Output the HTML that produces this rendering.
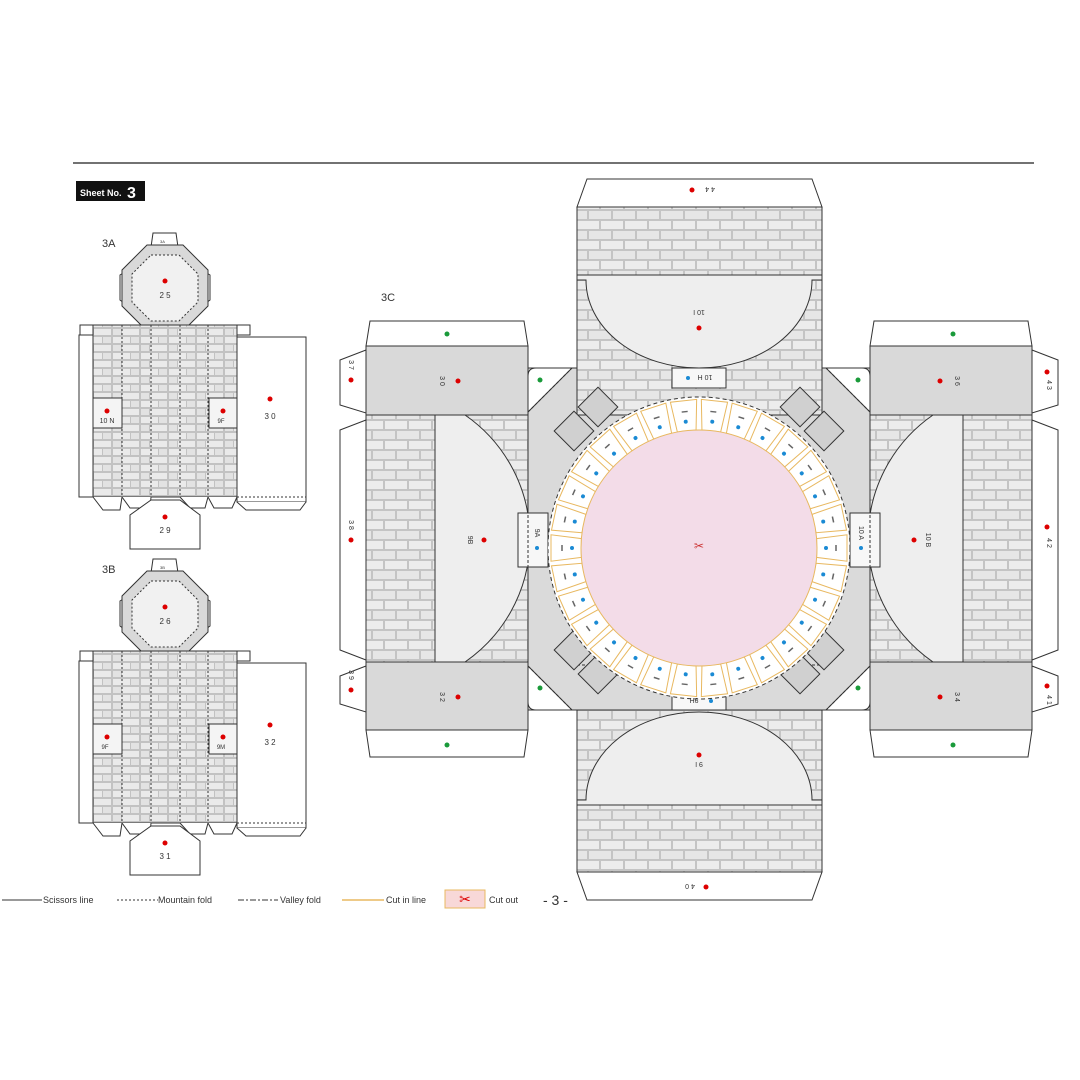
<!DOCTYPE html>
<html><head><meta charset="utf-8"><style>
html,body{margin:0;padding:0;background:#fff;}
svg{display:block;font-family:"Liberation Sans",sans-serif;}
</style></head><body>
<svg width="1080" height="1080" viewBox="0 0 1080 1080" xmlns="http://www.w3.org/2000/svg" xmlns:xlink="http://www.w3.org/1999/xlink">
<defs>
<pattern id="br" width="24" height="20" patternUnits="userSpaceOnUse">
<rect width="24" height="20" fill="#c4c4c4"/>
<rect x="1" y="1" width="22" height="8" fill="#ececec"/>
<rect x="-11" y="11" width="22" height="8" fill="#e6e6e6"/>
<rect x="13" y="11" width="22" height="8" fill="#e6e6e6"/>
</pattern>
<pattern id="bs" width="28" height="16" patternUnits="userSpaceOnUse">
<rect width="28" height="16" fill="#c2c2c2"/>
<rect x="1" y="1" width="17" height="6" fill="#eaeaea"/>
<rect x="19" y="1" width="8" height="6" fill="#e2e2e2"/>
<rect x="1" y="9" width="8" height="6" fill="#e2e2e2"/>
<rect x="10" y="9" width="17" height="6" fill="#eaeaea"/>
</pattern>
<g id="tile">
<polygon points="117.6,-9.4 148,-13.2 148,13.2 117.6,9.4" fill="#fff" stroke="#e8b860" stroke-width="1"/>
<circle cx="127" cy="0" r="2" fill="#1a8ad4"/>
<line x1="137" y1="-3" x2="137" y2="3" stroke="#666" stroke-width="1.5"/>
</g>
</defs>
<rect width="1080" height="1080" fill="#fff"/>
<line x1="73" y1="163" x2="1034" y2="163" stroke="#444" stroke-width="1.5"/>
<rect x="76" y="181" width="69" height="20" fill="#111"/>
<text x="80" y="196" font-size="9" font-weight="bold" fill="#fff">Sheet No.</text>
<text x="127" y="198" font-size="16" font-weight="bold" fill="#fff">3</text>

<!-- 3A -->
<g stroke="#333" stroke-width="1">
<text x="102" y="247" font-size="11" stroke="none" fill="#333">3A</text>
<path d="M151,247 L153,233 L176,233 L178,247 Z" fill="#fff"/>
<path d="M120,275 L128,270 L128,306 L120,300 Z" fill="#fff"/>
<path d="M210,275 L202,270 L202,306 L210,300 Z" fill="#fff"/>
<polygon points="147,245 183,245 208,270 208,306 183,331 147,331 122,306 122,270" fill="#d9d9d9"/>
<polygon points="151,255 179,255 198,274 198,302 179,321 151,321 132,302 132,274" fill="#f1f1f1" stroke-dasharray="2,2"/>
<circle cx="165" cy="281" r="2.5" fill="#d00" stroke="none"/>
<text x="165" y="298" font-size="8" text-anchor="middle" stroke="none" fill="#333">2 5</text>
<text x="160" y="243" font-size="4" stroke="none" fill="#333">3A</text>
<rect x="80" y="325" width="170" height="10" fill="#fff"/>
<rect x="79" y="335" width="14" height="162" fill="#fff"/>
<rect x="93" y="325" width="144" height="172" fill="url(#bs)"/>
<g stroke-dasharray="2,2"><line x1="122" y1="325" x2="122" y2="497"/><line x1="151" y1="325" x2="151" y2="497"/><line x1="180" y1="325" x2="180" y2="497"/><line x1="208" y1="325" x2="208" y2="497"/></g>
<rect x="237" y="337" width="69" height="165" fill="#fff"/>
<line x1="237" y1="497" x2="306" y2="497" stroke-dasharray="2,2"/>
<path d="M93,497 L103,510 L120,510 L122,497" fill="#fff"/>
<path d="M122,497 L130,508 L150,508 L151,497" fill="#fff"/>
<path d="M180,497 L190,508 L205,508 L208,497" fill="#fff"/>
<path d="M208,497 L214,508 L232,508 L237,497" fill="#fff"/>
<path d="M237,502 L246,510 L300,510 L306,502" fill="#fff"/>
<path d="M130,549 L130,515 L151,500 L180,500 L200,515 L200,549 Z" fill="#fff"/>
<rect x="93" y="398" width="29" height="30" fill="#f4f4f4"/>
<rect x="209" y="398" width="28" height="30" fill="#f4f4f4"/>
<g stroke="none">
<circle cx="107" cy="411" r="2.5" fill="#d00"/><text x="107" y="423" font-size="7" text-anchor="middle" fill="#333">10 N</text>
<circle cx="223" cy="411" r="2.5" fill="#d00"/><text x="221" y="423" font-size="6" text-anchor="middle" fill="#333">9F</text>
<circle cx="270" cy="399" r="2.5" fill="#d00"/><text x="270" y="419" font-size="8" text-anchor="middle" fill="#333">3 0</text>
<circle cx="165" cy="517" r="2.5" fill="#d00"/><text x="165" y="533" font-size="8" text-anchor="middle" fill="#333">2 9</text>
</g>
</g>
<!-- 3B -->
<g stroke="#333" stroke-width="1" transform="translate(0,326)">
<text x="102" y="247" font-size="11" stroke="none" fill="#333">3B</text>
<path d="M151,247 L153,233 L176,233 L178,247 Z" fill="#fff"/>
<path d="M120,275 L128,270 L128,306 L120,300 Z" fill="#fff"/>
<path d="M210,275 L202,270 L202,306 L210,300 Z" fill="#fff"/>
<polygon points="147,245 183,245 208,270 208,306 183,331 147,331 122,306 122,270" fill="#d9d9d9"/>
<polygon points="151,255 179,255 198,274 198,302 179,321 151,321 132,302 132,274" fill="#f1f1f1" stroke-dasharray="2,2"/>
<circle cx="165" cy="281" r="2.5" fill="#d00" stroke="none"/>
<text x="165" y="298" font-size="8" text-anchor="middle" stroke="none" fill="#333">2 6</text>
<text x="160" y="243" font-size="4" stroke="none" fill="#333">3B</text>
<rect x="80" y="325" width="170" height="10" fill="#fff"/>
<rect x="79" y="335" width="14" height="162" fill="#fff"/>
<rect x="93" y="325" width="144" height="172" fill="url(#bs)"/>
<g stroke-dasharray="2,2"><line x1="122" y1="325" x2="122" y2="497"/><line x1="151" y1="325" x2="151" y2="497"/><line x1="180" y1="325" x2="180" y2="497"/><line x1="208" y1="325" x2="208" y2="497"/></g>
<rect x="237" y="337" width="69" height="165" fill="#fff"/>
<line x1="237" y1="497" x2="306" y2="497" stroke-dasharray="2,2"/>
<path d="M93,497 L103,510 L120,510 L122,497" fill="#fff"/>
<path d="M122,497 L130,508 L150,508 L151,497" fill="#fff"/>
<path d="M180,497 L190,508 L205,508 L208,497" fill="#fff"/>
<path d="M208,497 L214,508 L232,508 L237,497" fill="#fff"/>
<path d="M237,502 L246,510 L300,510 L306,502" fill="#fff"/>
<path d="M130,549 L130,515 L151,500 L180,500 L200,515 L200,549 Z" fill="#fff"/>
<rect x="93" y="398" width="29" height="30" fill="#f4f4f4"/>
<rect x="209" y="398" width="28" height="30" fill="#f4f4f4"/>
<g stroke="none">
<circle cx="107" cy="411" r="2.5" fill="#d00"/><text x="105" y="423" font-size="6" text-anchor="middle" fill="#333">9F</text>
<circle cx="223" cy="411" r="2.5" fill="#d00"/><text x="221" y="423" font-size="6" text-anchor="middle" fill="#333">9M</text>
<circle cx="270" cy="399" r="2.5" fill="#d00"/><text x="270" y="419" font-size="8" text-anchor="middle" fill="#333">3 2</text>
<circle cx="165" cy="517" r="2.5" fill="#d00"/><text x="165" y="533" font-size="8" text-anchor="middle" fill="#333">3 1</text>
</g>
</g>

<!-- 3C -->
<text x="381" y="301" font-size="11" fill="#333">3C</text>
<g stroke="#333" stroke-width="1">
<rect x="528" y="368" width="342" height="342" fill="#dadada"/>
<path d="M528,412 L528,376 Q528,368 536,368 L572,368 Z" fill="#fff"/>
<path d="M870,412 L870,376 Q870,368 862,368 L826,368 Z" fill="#fff"/>
<path d="M528,666 L528,702 Q528,710 536,710 L572,710 Z" fill="#fff"/>
<path d="M870,666 L870,702 Q870,710 862,710 L826,710 Z" fill="#fff"/>
<path d="M577,207 L587,179 L812,179 L822,207 Z" fill="#fff"/>
<rect x="577" y="207" width="245" height="68" fill="url(#br)"/>
<rect x="577" y="275" width="245" height="140" fill="url(#br)"/>
<path d="M577,275 L822,275 L822,280 L812,280 A113,88 0 0 1 586,280 L577,280 Z" fill="#eeeeee"/>
<rect x="672" y="368" width="54" height="20" fill="#f7f7f7"/>
<rect x="577" y="710" width="245" height="162" fill="url(#br)"/>
<path d="M577,805 L577,800 L586,800 A113,88 0 0 1 812,800 L822,800 L822,805 Z" fill="#eeeeee"/>
<path d="M577,872 L822,872 L812,900 L587,900 Z" fill="#fff"/>
<rect x="672" y="690" width="54" height="20" fill="#f7f7f7"/>
<path d="M366,346 L370,321 L524,321 L528,346 Z" fill="#fff"/>
<rect x="366" y="346" width="162" height="69" fill="#d9d9d9"/>
<rect x="366" y="415" width="162" height="247" fill="url(#br)"/>
<path d="M435,415 L465,415 A150,150 0 0 1 465,662 L435,662 Z" fill="#eeeeee"/>
<rect x="366" y="662" width="162" height="68" fill="#d9d9d9"/>
<path d="M366,730 L528,730 L524,757 L370,757 Z" fill="#fff"/>
<path d="M366,350 L340,360 L340,405 L366,413 Z" fill="#fff"/>
<path d="M366,420 L340,430 L340,650 L366,660 Z" fill="#fff"/>
<path d="M366,666 L340,676 L340,704 L366,712 Z" fill="#fff"/>
<rect x="518" y="513" width="30" height="54" fill="#f7f7f7"/>
<path d="M870,346 L874,321 L1028,321 L1032,346 Z" fill="#fff"/>
<rect x="870" y="346" width="162" height="69" fill="#d9d9d9"/>
<rect x="870" y="415" width="162" height="247" fill="url(#br)"/>
<path d="M963,415 L933,415 A150,150 0 0 0 933,662 L963,662 Z" fill="#eeeeee"/>
<rect x="870" y="662" width="162" height="68" fill="#d9d9d9"/>
<path d="M870,730 L1032,730 L1028,757 L874,757 Z" fill="#fff"/>
<path d="M1032,350 L1058,360 L1058,405 L1032,413 Z" fill="#fff"/>
<path d="M1032,420 L1058,430 L1058,650 L1032,660 Z" fill="#fff"/>
<path d="M1032,666 L1058,676 L1058,704 L1032,712 Z" fill="#fff"/>
<rect x="850" y="513" width="30" height="54" fill="#f7f7f7"/>
<g stroke-dasharray="3,2" fill="none">
<line x1="366" y1="346" x2="528" y2="346"/><line x1="366" y1="415" x2="528" y2="415"/>
<line x1="366" y1="662" x2="528" y2="662"/><line x1="366" y1="730" x2="528" y2="730"/>
<line x1="870" y1="346" x2="1032" y2="346"/><line x1="870" y1="415" x2="1032" y2="415"/>
<line x1="870" y1="662" x2="1032" y2="662"/><line x1="870" y1="730" x2="1032" y2="730"/>
<line x1="577" y1="207" x2="822" y2="207"/><line x1="577" y1="872" x2="822" y2="872"/>
<line x1="577" y1="415" x2="822" y2="415"/><line x1="577" y1="665" x2="822" y2="665"/>
<line x1="528" y1="415" x2="528" y2="662"/><line x1="870" y1="415" x2="870" y2="662"/>
<line x1="528" y1="412" x2="572" y2="368"/><line x1="870" y1="412" x2="826" y2="368"/>
<line x1="528" y1="666" x2="572" y2="710"/><line x1="870" y1="666" x2="826" y2="710"/>
</g>
<g fill="#d0d0d0">
<rect x="-14" y="-14" width="28" height="28" transform="translate(574,431) rotate(45)"/>
<rect x="-14" y="-14" width="28" height="28" transform="translate(598,407) rotate(45)"/>
<rect x="-14" y="-14" width="28" height="28" transform="translate(824,431) rotate(45)"/>
<rect x="-14" y="-14" width="28" height="28" transform="translate(800,407) rotate(45)"/>
<rect x="-14" y="-14" width="28" height="28" transform="translate(574,650) rotate(45)"/>
<rect x="-14" y="-14" width="28" height="28" transform="translate(598,674) rotate(45)"/>
<rect x="-14" y="-14" width="28" height="28" transform="translate(824,650) rotate(45)"/>
<rect x="-14" y="-14" width="28" height="28" transform="translate(800,674) rotate(45)"/>
</g>
<circle cx="699" cy="548" r="151" fill="#fff" stroke-dasharray="4,3"/>
</g>
<g transform="translate(699,548)">
<use xlink:href="#tile" href="#tile" transform="rotate(0)"/>
<use xlink:href="#tile" href="#tile" transform="rotate(12)"/>
<use xlink:href="#tile" href="#tile" transform="rotate(24)"/>
<use xlink:href="#tile" href="#tile" transform="rotate(36)"/>
<use xlink:href="#tile" href="#tile" transform="rotate(48)"/>
<use xlink:href="#tile" href="#tile" transform="rotate(60)"/>
<use xlink:href="#tile" href="#tile" transform="rotate(72)"/>
<use xlink:href="#tile" href="#tile" transform="rotate(84)"/>
<use xlink:href="#tile" href="#tile" transform="rotate(96)"/>
<use xlink:href="#tile" href="#tile" transform="rotate(108)"/>
<use xlink:href="#tile" href="#tile" transform="rotate(120)"/>
<use xlink:href="#tile" href="#tile" transform="rotate(132)"/>
<use xlink:href="#tile" href="#tile" transform="rotate(144)"/>
<use xlink:href="#tile" href="#tile" transform="rotate(156)"/>
<use xlink:href="#tile" href="#tile" transform="rotate(168)"/>
<use xlink:href="#tile" href="#tile" transform="rotate(180)"/>
<use xlink:href="#tile" href="#tile" transform="rotate(192)"/>
<use xlink:href="#tile" href="#tile" transform="rotate(204)"/>
<use xlink:href="#tile" href="#tile" transform="rotate(216)"/>
<use xlink:href="#tile" href="#tile" transform="rotate(228)"/>
<use xlink:href="#tile" href="#tile" transform="rotate(240)"/>
<use xlink:href="#tile" href="#tile" transform="rotate(252)"/>
<use xlink:href="#tile" href="#tile" transform="rotate(264)"/>
<use xlink:href="#tile" href="#tile" transform="rotate(276)"/>
<use xlink:href="#tile" href="#tile" transform="rotate(288)"/>
<use xlink:href="#tile" href="#tile" transform="rotate(300)"/>
<use xlink:href="#tile" href="#tile" transform="rotate(312)"/>
<use xlink:href="#tile" href="#tile" transform="rotate(324)"/>
<use xlink:href="#tile" href="#tile" transform="rotate(336)"/>
<use xlink:href="#tile" href="#tile" transform="rotate(348)"/>
</g>
<circle cx="699" cy="548" r="118" fill="#f3dce8" stroke="#e8b860"/>
<g stroke="none" font-size="7" fill="#333" text-anchor="middle">
<circle cx="692" cy="190" r="2.5" fill="#d00"/><text x="710" y="193" transform="rotate(180,710,190)">4 4</text>
<circle cx="699" cy="328" r="2.5" fill="#d00"/><text x="699" y="316" transform="rotate(180,699,313)">10 I</text>
<circle cx="688" cy="378" r="2" fill="#1a8ad4"/><text x="705" y="381" transform="rotate(180,705,378)">10 H</text>
<circle cx="699" cy="755" r="2.5" fill="#d00"/><text x="699" y="768" transform="rotate(180,699,765)">9 I</text>
<circle cx="711" cy="701" r="2" fill="#1a8ad4"/><text x="694" y="704" transform="rotate(180,694,701)">9H</text>
<circle cx="706" cy="887" r="2.5" fill="#d00"/><text x="690" y="890" transform="rotate(180,690,887)">4 0</text>
<circle cx="458" cy="381" r="2.5" fill="#d00"/><text x="442" y="383" transform="rotate(90,442,381)">3 0</text>
<circle cx="458" cy="697" r="2.5" fill="#d00"/><text x="442" y="699" transform="rotate(90,442,697)">3 2</text>
<circle cx="484" cy="540" r="2.5" fill="#d00"/><text x="470" y="542" transform="rotate(90,470,540)">9B</text>
<circle cx="537" cy="548" r="2" fill="#1a8ad4"/><text x="537" y="535" transform="rotate(90,537,533)">9A</text>
<circle cx="351" cy="380" r="2.5" fill="#d00"/><text x="351" y="367" transform="rotate(90,351,365)">3 7</text>
<circle cx="351" cy="540" r="2.5" fill="#d00"/><text x="351" y="527" transform="rotate(90,351,525)">3 8</text>
<circle cx="351" cy="690" r="2.5" fill="#d00"/><text x="351" y="677" transform="rotate(90,351,675)">3 9</text>
<circle cx="940" cy="381" r="2.5" fill="#d00"/><text x="957" y="383" transform="rotate(90,957,381)">3 6</text>
<circle cx="940" cy="697" r="2.5" fill="#d00"/><text x="957" y="699" transform="rotate(90,957,697)">3 4</text>
<circle cx="914" cy="540" r="2.5" fill="#d00"/><text x="928" y="542" transform="rotate(90,928,540)">10 B</text>
<circle cx="861" cy="548" r="2" fill="#1a8ad4"/><text x="861" y="535" transform="rotate(90,861,533)">10 A</text>
<circle cx="1047" cy="372" r="2.5" fill="#d00"/><text x="1047" y="385" transform="rotate(90,1047,385)">4 3</text>
<circle cx="1047" cy="527" r="2.5" fill="#d00"/><text x="1047" y="543" transform="rotate(90,1047,543)">4 2</text>
<circle cx="1047" cy="686" r="2.5" fill="#d00"/><text x="1047" y="700" transform="rotate(90,1047,700)">4 1</text>
<circle cx="447" cy="334" r="2.5" fill="#1a9a3a"/><circle cx="447" cy="745" r="2.5" fill="#1a9a3a"/>
<circle cx="953" cy="334" r="2.5" fill="#1a9a3a"/><circle cx="953" cy="745" r="2.5" fill="#1a9a3a"/>
<circle cx="540" cy="380" r="2.5" fill="#1a9a3a"/><circle cx="858" cy="380" r="2.5" fill="#1a9a3a"/>
<circle cx="540" cy="688" r="2.5" fill="#1a9a3a"/><circle cx="858" cy="688" r="2.5" fill="#1a9a3a"/>
<text x="699" y="550" font-size="12" fill="#c33">✂</text>
</g>

<g font-size="9" fill="#333">
<line x1="2" y1="900" x2="42" y2="900" stroke="#333"/><text x="43" y="903">Scissors line</text>
<line x1="117" y1="900" x2="158" y2="900" stroke="#333" stroke-dasharray="2,2"/><text x="158" y="903">Mountain fold</text>
<line x1="238" y1="900" x2="278" y2="900" stroke="#333" stroke-dasharray="6,2,2,2"/><text x="280" y="903">Valley fold</text>
<line x1="342" y1="900" x2="384" y2="900" stroke="#e8b860" stroke-width="1.5"/><text x="386" y="903">Cut in line</text>
<rect x="445" y="890" width="40" height="18" fill="#f8d8d8" stroke="#e8b860"/>
<text x="465" y="904" font-size="14" fill="#d00" text-anchor="middle">✂</text>
<text x="489" y="903">Cut out</text>
<text x="543" y="905" font-size="14">- 3 -</text>
</g>
</svg>
</body></html>
